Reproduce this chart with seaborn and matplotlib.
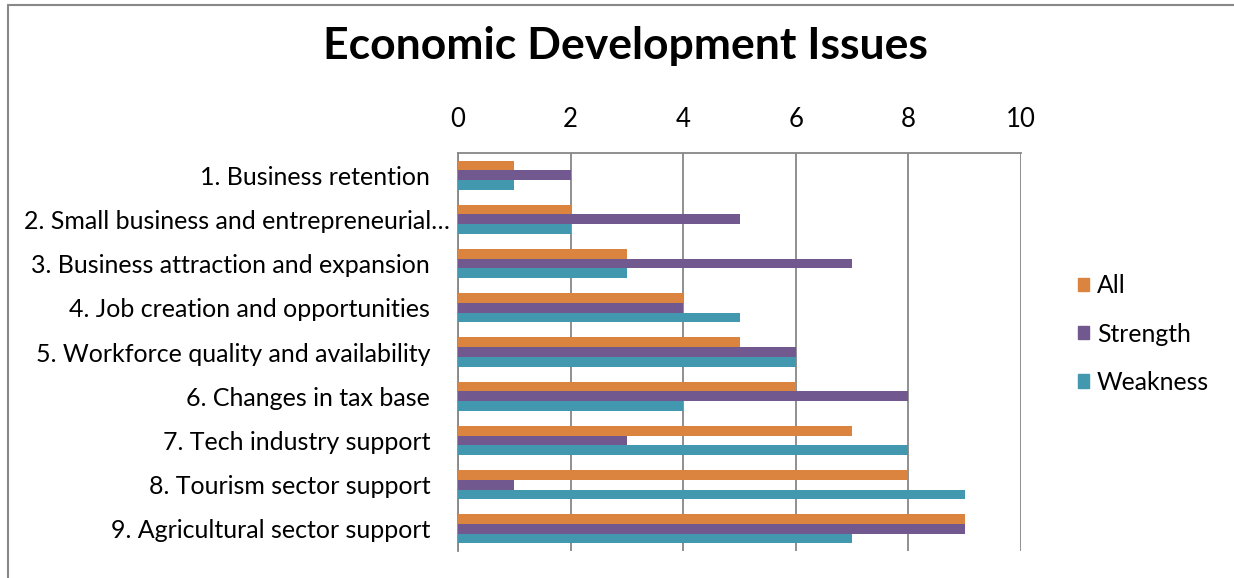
import numpy as np
import pandas as pd
import matplotlib
matplotlib.use("Agg")
import matplotlib.pyplot as plt
import matplotlib.transforms as mtransforms
import seaborn as sns
from matplotlib.lines import Line2D

# Data
issues = [
    "1. Business retention",
    "2. Small business and entrepreneurial\u2026",
    "3. Business attraction and expansion",
    "4. Job creation and opportunities",
    "5. Workforce quality and availability",
    "6. Changes in tax base",
    "7. Tech industry support",
    "8. Tourism sector support",
    "9. Agricultural sector support",
]
all_vals = [1, 2, 3, 4, 5, 6, 7, 8, 9]
strength_vals = [2, 5, 7, 4, 6, 8, 3, 1, 9]
weakness_vals = [1, 2, 3, 5, 6, 4, 8, 9, 7]
series = ["All", "Strength", "Weakness"]
colors = ["#DA843F", "#71588F", "#4198AF"]
x_ticks = [0, 2, 4, 6, 8, 10]

df = pd.DataFrame({"Issue": issues, "All": all_vals,
                   "Strength": strength_vals, "Weakness": weakness_vals})
long_df = df.melt(id_vars="Issue", var_name="Series", value_name="Value")

sns.set_style("white")
plt.rcParams['font.family'] = ['Lato', 'DejaVu Sans']
plt.rcParams['text.color'] = 'black'
plt.rcParams['xtick.color'] = 'black'
plt.rcParams['ytick.color'] = 'black'

fig = plt.figure(figsize=(12.34, 5.78), dpi=100)
ax = fig.add_axes([458 / 1234, 1 - 551 / 578, 563 / 1234, 398 / 578])

sns.barplot(data=long_df, y="Issue", x="Value", hue="Series",
            hue_order=series, order=issues, palette=colors, saturation=1,
            orient="h", width=0.66, linewidth=0, ax=ax, legend=False, zorder=3)

grid_c = "#878787"
ax.set_xlim(0, 10)
ax.set_ylim(len(issues) - 0.5, -0.5)
ax.set_xticks(x_ticks)
ax.xaxis.tick_top()
ax.tick_params(axis="x", length=0, pad=15, labelsize=18.5)
ax.tick_params(axis="y", which="major", length=0, pad=20, labelsize=18)
ax.set_yticks(np.arange(-0.5, len(issues), 1.0), minor=True)
ax.tick_params(axis="y", which="minor", length=7, width=1.3, color=grid_c, direction="out")
ax.grid(axis="x", color=grid_c, linewidth=1.3, zorder=0)
ax.set_axisbelow(True)
ax.set_xlabel("")
ax.set_ylabel("")
for side in ["right", "bottom"]:
    ax.spines[side].set_visible(False)
ax.spines["top"].set_color(grid_c)
ax.spines["top"].set_linewidth(1.3)
ax.spines["left"].set_color(grid_c)
ax.spines["left"].set_linewidth(1.3)

# the truncated label sticks out a little further right, as in the original
lbl = ax.get_yticklabels()[1]
lbl.set_transform(lbl.get_transform() + mtransforms.ScaledTranslation(20 / 100, 0, fig.dpi_scale_trans))

fig.text(625 / 1234, 1 - 46 / 578, "Economic Development Issues",
         ha="center", va="center", fontsize=32, fontweight="bold")

handles = [plt.Rectangle((0, 0), 1, 1, color=c) for c in colors]
fig.legend(handles, series, loc="center left",
           bbox_to_anchor=(1078 / 1234, 1 - 334 / 578), frameon=False,
           borderpad=0, borderaxespad=0,
           fontsize=17.8, handlelength=0.45, handleheight=0.45,
           handletextpad=0.32, labelspacing=1.02)

# chart border (left and top edges)
fig.add_artist(Line2D([8 / 1234, 8 / 1234], [0, 1 - 5 / 578],
                      color="#888888", linewidth=1.5, transform=fig.transFigure))
fig.add_artist(Line2D([8 / 1234, 1], [1 - 5 / 578, 1 - 5 / 578],
                      color="#888888", linewidth=1.5, transform=fig.transFigure))

fig.savefig("out.png", dpi=100)
